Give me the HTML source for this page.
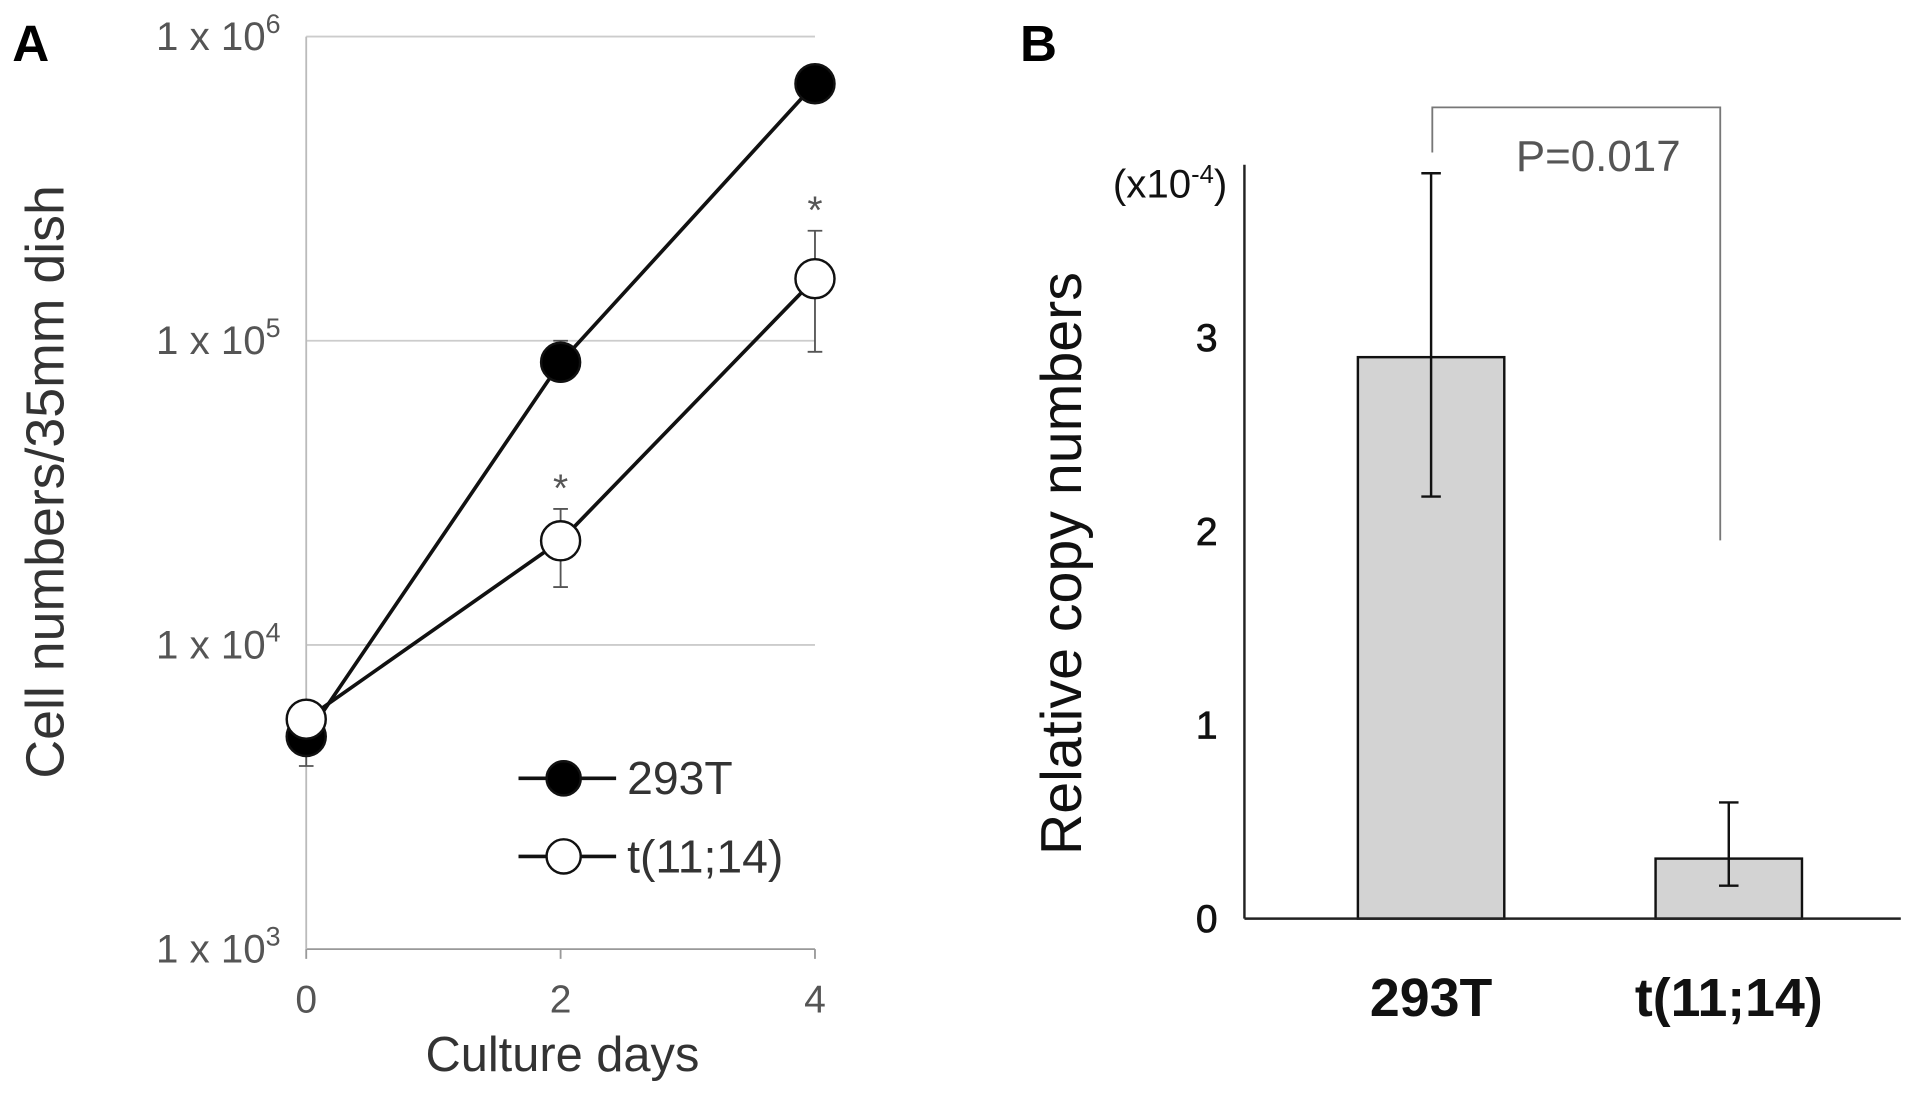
<!DOCTYPE html>
<html><head><meta charset="utf-8"><style>
html,body{margin:0;padding:0;background:#fff;}
svg{display:block;font-family:"Liberation Sans","DejaVu Sans",sans-serif;}
</style></head><body>
<svg id="fig" width="1913" height="1096" viewBox="0 0 1568 898.4" preserveAspectRatio="none" xmlns="http://www.w3.org/2000/svg">
<text x="10" y="50" font-size="42" font-weight="bold">A</text>
<text x="836" y="50" font-size="42" font-weight="bold">B</text>
<g id="a"></g><g id="b"></g>
</svg>
<script>
const NS='http://www.w3.org/2000/svg';
function mk(p,t,a,txt){const e=document.createElementNS(NS,t);for(const k in a)e.setAttribute(k,a[k]);if(txt!==undefined)e.textContent=txt;p.appendChild(e);return e;}

// ---- Panel A data ----
const days=[0,2,4];
const s293=[5000,85000,700000];
const s293Lo=[4000,80000,700000];
const s293Hi=[5500,100000,700000];
const sT=[5700,22000,160000];
const sTLo=[5700,15500,92000];
const sTHi=[5700,28000,230000];
const yTicksA=[3,4,5,6];
const xTicksA=[0,2,4];

const A=document.getElementById('a');
const ax=d=>251+d*(668-251)/4;
const ay=v=>778-(Math.log10(v)-3)*(778-30)/3;

yTicksA.forEach(p=>{
  let g=mk(A,'line',{x1:251,x2:668,y1:ay(10**p),y2:ay(10**p),stroke:p===3?'#999':'#ccc','stroke-width':1.5});
  
  
  let t=mk(A,'text',{x:230,y:ay(10**p)+11,'text-anchor':'end','font-size':33,fill:'#555'});
  
  
  t.innerHTML='1 x 10<tspan dy="-14" font-size="22">'+p+'</tspan>';
});
let yax=mk(A,'line',{x1:251,x2:251,y1:30,y2:778,stroke:'#bbb','stroke-width':1.5});


xTicksA.forEach(d=>{
  let l=mk(A,'line',{x1:ax(d),x2:ax(d),y1:778,y2:786,stroke:'#999','stroke-width':1.5});
  
  
  let t=mk(A,'text',{x:ax(d),y:830,'text-anchor':'middle','font-size':32,fill:'#555'},String(d));
  
  
});
let xt=mk(A,'text',{x:461,y:878,'text-anchor':'middle','font-size':40,fill:'#333'},'Culture days');


let yt=mk(A,'text',{x:0,y:0,'text-anchor':'middle','font-size':44,fill:'#333',transform:'translate(52,395) rotate(-90)'},'Cell numbers/35mm dish');



function series(vals,lo,hi,fill,name){
  let pts=days.map((d,i)=>ax(d)+','+ay(vals[i])).join(' ');
  let pl=mk(A,'polyline',{points:pts,fill:'none',stroke:'#111','stroke-width':3});
  
  
  days.forEach((d,i)=>{
    if(hi[i]!==lo[i]){
      let e=mk(A,'path',{d:`M${ax(d)},${ay(lo[i])}V${ay(hi[i])}M${ax(d)-6},${ay(lo[i])}h12M${ax(d)-6},${ay(hi[i])}h12`,stroke:'#555','stroke-width':1.5,fill:'none'});
      
      
    }
  });
  days.forEach((d,i)=>{
    let c=mk(A,'circle',{cx:ax(d),cy:ay(vals[i]),r:16,fill:fill,stroke:'#111','stroke-width':2});
    
    
  });
}
series(s293,s293Lo,s293Hi,'#000','series-293t');
series(sT,sTLo,sTHi,'#fff','series-t1114');
[2,4].forEach(d=>{
  let i=days.indexOf(d);
  let s=mk(A,'text',{x:ax(d),y:ay(sTHi[i])-6,'text-anchor':'middle','font-size':32,fill:'#555'},'*');
  
  
});
[[638,'#000','293T'],[702,'#fff','t(11;14)']].forEach(([y,f,n])=>{
  let g=mk(A,'g',{});
  
  
  mk(g,'line',{x1:425,x2:505,y1:y,y2:y,stroke:'#111','stroke-width':3});
  mk(g,'circle',{cx:462,cy:y,r:14,fill:f,stroke:'#111','stroke-width':2});
  mk(g,'text',{x:514,y:y+13,'font-size':38,fill:'#333'},n);
});

// ---- Panel B data ----
const cats=['293T','t(11;14)'];
const vals=[2.9,0.31];
const errLo=[2.18,0.17];
const errHi=[3.85,0.6];
const yTicksB=[0,1,2,3];

const B=document.getElementById('b');
const by=v=>753-v*158.7;
const bx=i=>1173+i*244;
const bw=120;
let byax=mk(B,'line',{x1:1020,x2:1020,y1:135,y2:753,stroke:'#222','stroke-width':2});


yTicksB.forEach(v=>{
  let t=mk(B,'text',{x:998,y:by(v)+11,'text-anchor':'end','font-size':32,fill:'#111',stroke:'#111','stroke-width':0.6});
  t.textContent=String(v);
  
  
});
let un=mk(B,'text',{x:1006,y:162,'text-anchor':'end','font-size':33,fill:'#111'});


un.innerHTML='(x10<tspan dy="-12" font-size="21">-4</tspan><tspan dy="12">)</tspan>';
let byt=mk(B,'text',{x:0,y:0,'text-anchor':'middle','font-size':47,fill:'#111',transform:'translate(886,462) rotate(-90)'},'Relative copy numbers');


cats.forEach((c,i)=>{
  let r=mk(B,'rect',{x:bx(i)-bw/2,y:by(vals[i]),width:bw,height:by(0)-by(vals[i]),fill:'#d3d3d3',stroke:'#111','stroke-width':2});
  
  
  let e=mk(B,'path',{d:`M${bx(i)},${by(errLo[i])}V${by(errHi[i])}M${bx(i)-8},${by(errLo[i])}h16M${bx(i)-8},${by(errHi[i])}h16`,stroke:'#111','stroke-width':2,fill:'none'});
  
  
  let t=mk(B,'text',{x:bx(i),y:833,'text-anchor':'middle','font-size':44,'font-weight':'bold',fill:'#111'},c);
  
  
});
let base=mk(B,'line',{x1:1020,x2:1558,y1:753,y2:753,stroke:'#222','stroke-width':2});


let br=mk(B,'path',{d:'M1174,125V88H1410V443',stroke:'#777','stroke-width':1.5,fill:'none'});


let pv=mk(B,'text',{x:1310,y:140,'text-anchor':'middle','font-size':36,fill:'#555'},'P=0.017');


</script>
</body></html>
